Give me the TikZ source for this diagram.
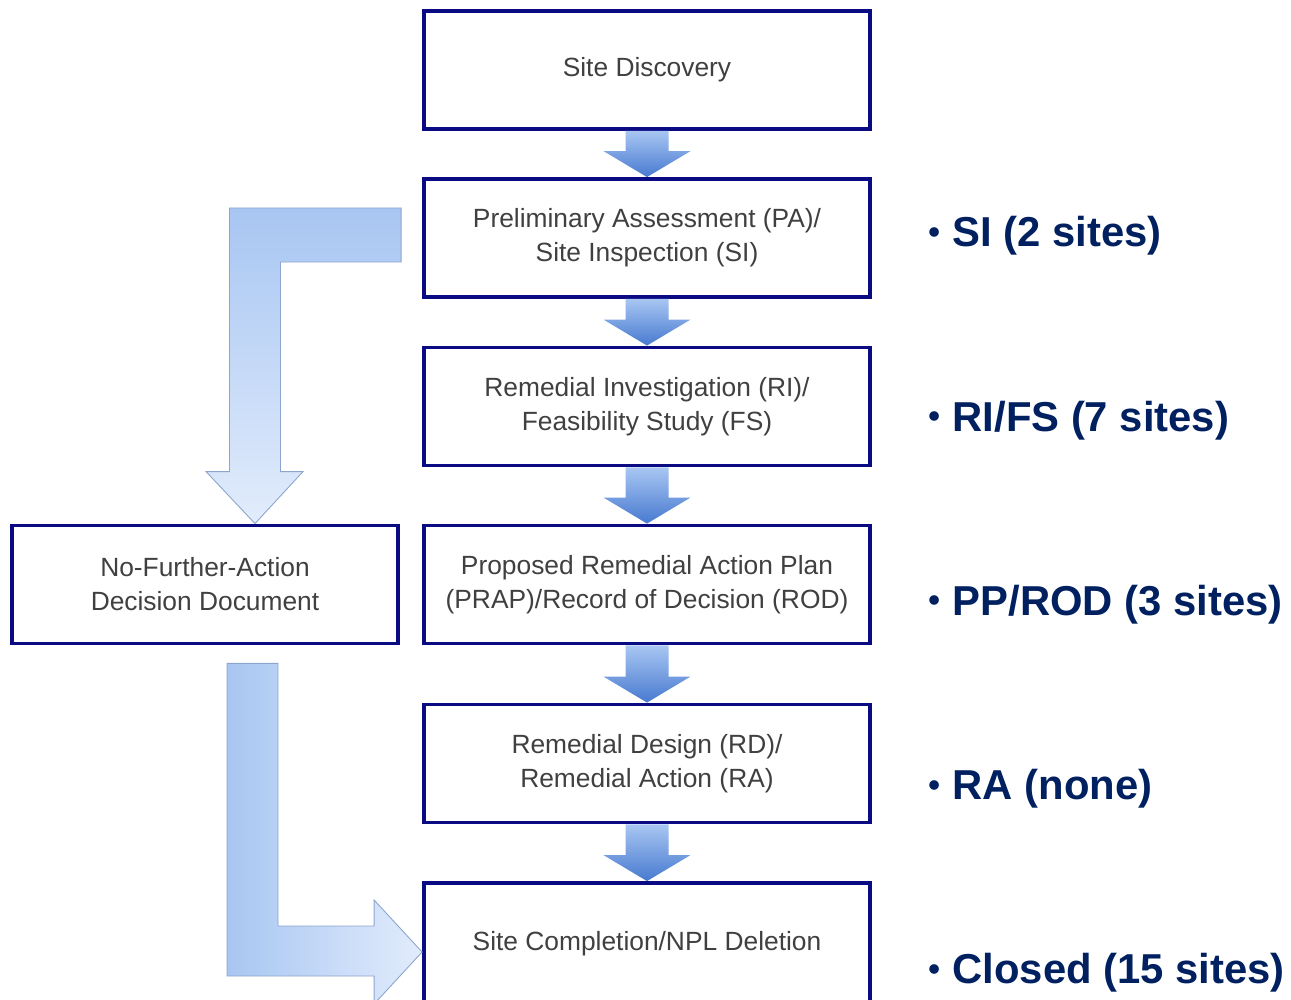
\documentclass[tikz,border=0pt]{standalone}
\usepackage{fontspec}
\setmainfont{Liberation Sans}
\usetikzlibrary{calc}
\definecolor{boxblue}{RGB}{10,10,130}
\definecolor{textgray}{RGB}{64,64,64}
\definecolor{sitenavy}{RGB}{0,32,96}
\definecolor{arrowlight}{RGB}{168,198,242}
\definecolor{arrowdark}{RGB}{72,122,208}
\definecolor{bendpale}{RGB}{226,236,252}
\definecolor{bendedge}{RGB}{140,165,205}

\begin{document}
\begin{tikzpicture}[x=0.02cm,y=-0.02cm,
    stage/.style={draw=boxblue,line width=2.2pt,fill=white,minimum width=8.92cm,
        minimum height=2.36cm,align=center,text=textgray,font=\fontsize{15}{19.3}\selectfont},
    sites/.style={anchor=west,text=sitenavy,inner sep=0pt,
        font=\fontsize{23.8}{28}\selectfont\bfseries},
    flow/.style={top color=arrowlight,bottom color=arrowdark},
    bendarrow/.style={draw=bendedge,line width=0.5pt}]
    \useasboundingbox (0,0) rectangle (1291,1000);
    %main column of stages
    \node[stage] (disc) at (647,70) {Site Discovery};
    \node[stage] (pasi) at (647,238) {Preliminary Assessment (PA)/\\Site Inspection (SI)};
    \node[stage] (rifs) at (647,406.5) {Remedial Investigation (RI)/\\Feasibility Study (FS)};
    \node[stage] (prap) at (647,584.5) {Proposed Remedial Action Plan\\(PRAP)/Record of Decision (ROD)};
    \node[stage] (rdra) at (647,763.5) {Remedial Design (RD)/\\Remedial Action (RA)};
    \node[stage,minimum height=2.76cm,text depth=0.45cm] (compl) at (647,952) {Site Completion/NPL Deletion};
    \node[stage,minimum width=7.72cm] (nfa) at (205,584.5) {No-Further-Action\\Decision Document};
    %down arrows between the stages
    \foreach \a/\b in {disc/pasi,pasi/rifs,rifs/prap,prap/rdra,rdra/compl}
        \shade[flow] ($(\a.south)+(-21.5,0)$) -- ($(\b.north)+(-21.5,-26)$)
            -- ($(\b.north)+(-43.5,-26)$) -- (\b.north) -- ($(\b.north)+(43.5,-26)$)
            -- ($(\b.north)+(21.5,-26)$) -- ($(\a.south)+(21.5,0)$) -- cycle;
    %bent arrow into the no-further-action box
    \coordinate (bendA) at ($(pasi.west)+(-21,0)$);
    \coordinate (tipA) at ($(nfa.north)+(50,0)$);
    \coordinate (cornerA) at (tipA |- bendA);
    \shade[bendarrow,top color=arrowlight,bottom color=bendpale] ($(bendA)+(0,-30)$)
        -- ($(cornerA)+(-25.5,-30)$) -- ($(tipA)+(-25.5,-52)$) -- ($(tipA)+(-49,-52)$)
        -- (tipA) -- ($(tipA)+(48,-52)$) -- ($(tipA)+(25.5,-52)$)
        -- ($(cornerA)+(25.5,24)$) -- ($(bendA)+(0,24)$) -- cycle;
    %bent arrow into the completion box
    \coordinate (startB) at ($(nfa.south)+(47.5,18)$);
    \coordinate (tipB) at (compl.west);
    \coordinate (cornerB) at (startB |- tipB);
    \shade[bendarrow,left color=arrowlight,right color=bendpale] ($(startB)+(-25.5,0)$)
        -- ($(cornerB)+(-25.5,24)$) -- ($(tipB)+(-48,24)$) -- ($(tipB)+(-48,52)$)
        -- (tipB) -- ($(tipB)+(-48,-52)$) -- ($(tipB)+(-48,-26)$)
        -- ($(cornerB)+(25.5,-26)$) -- ($(startB)+(25.5,0)$) -- cycle;
    %site counts
    \foreach \txt [count=\i] in {SI (2 sites),RI/FS (7 sites),PP/ROD (3 sites),RA (none),Closed (15 sites)}
        \node[sites] (lab\i) at (928,{236+184.25*(\i-1)}) {\raisebox{0.08em}{\fontsize{19}{19}\selectfont•}\hspace{0.3em}\txt};
\end{tikzpicture}
\end{document}
